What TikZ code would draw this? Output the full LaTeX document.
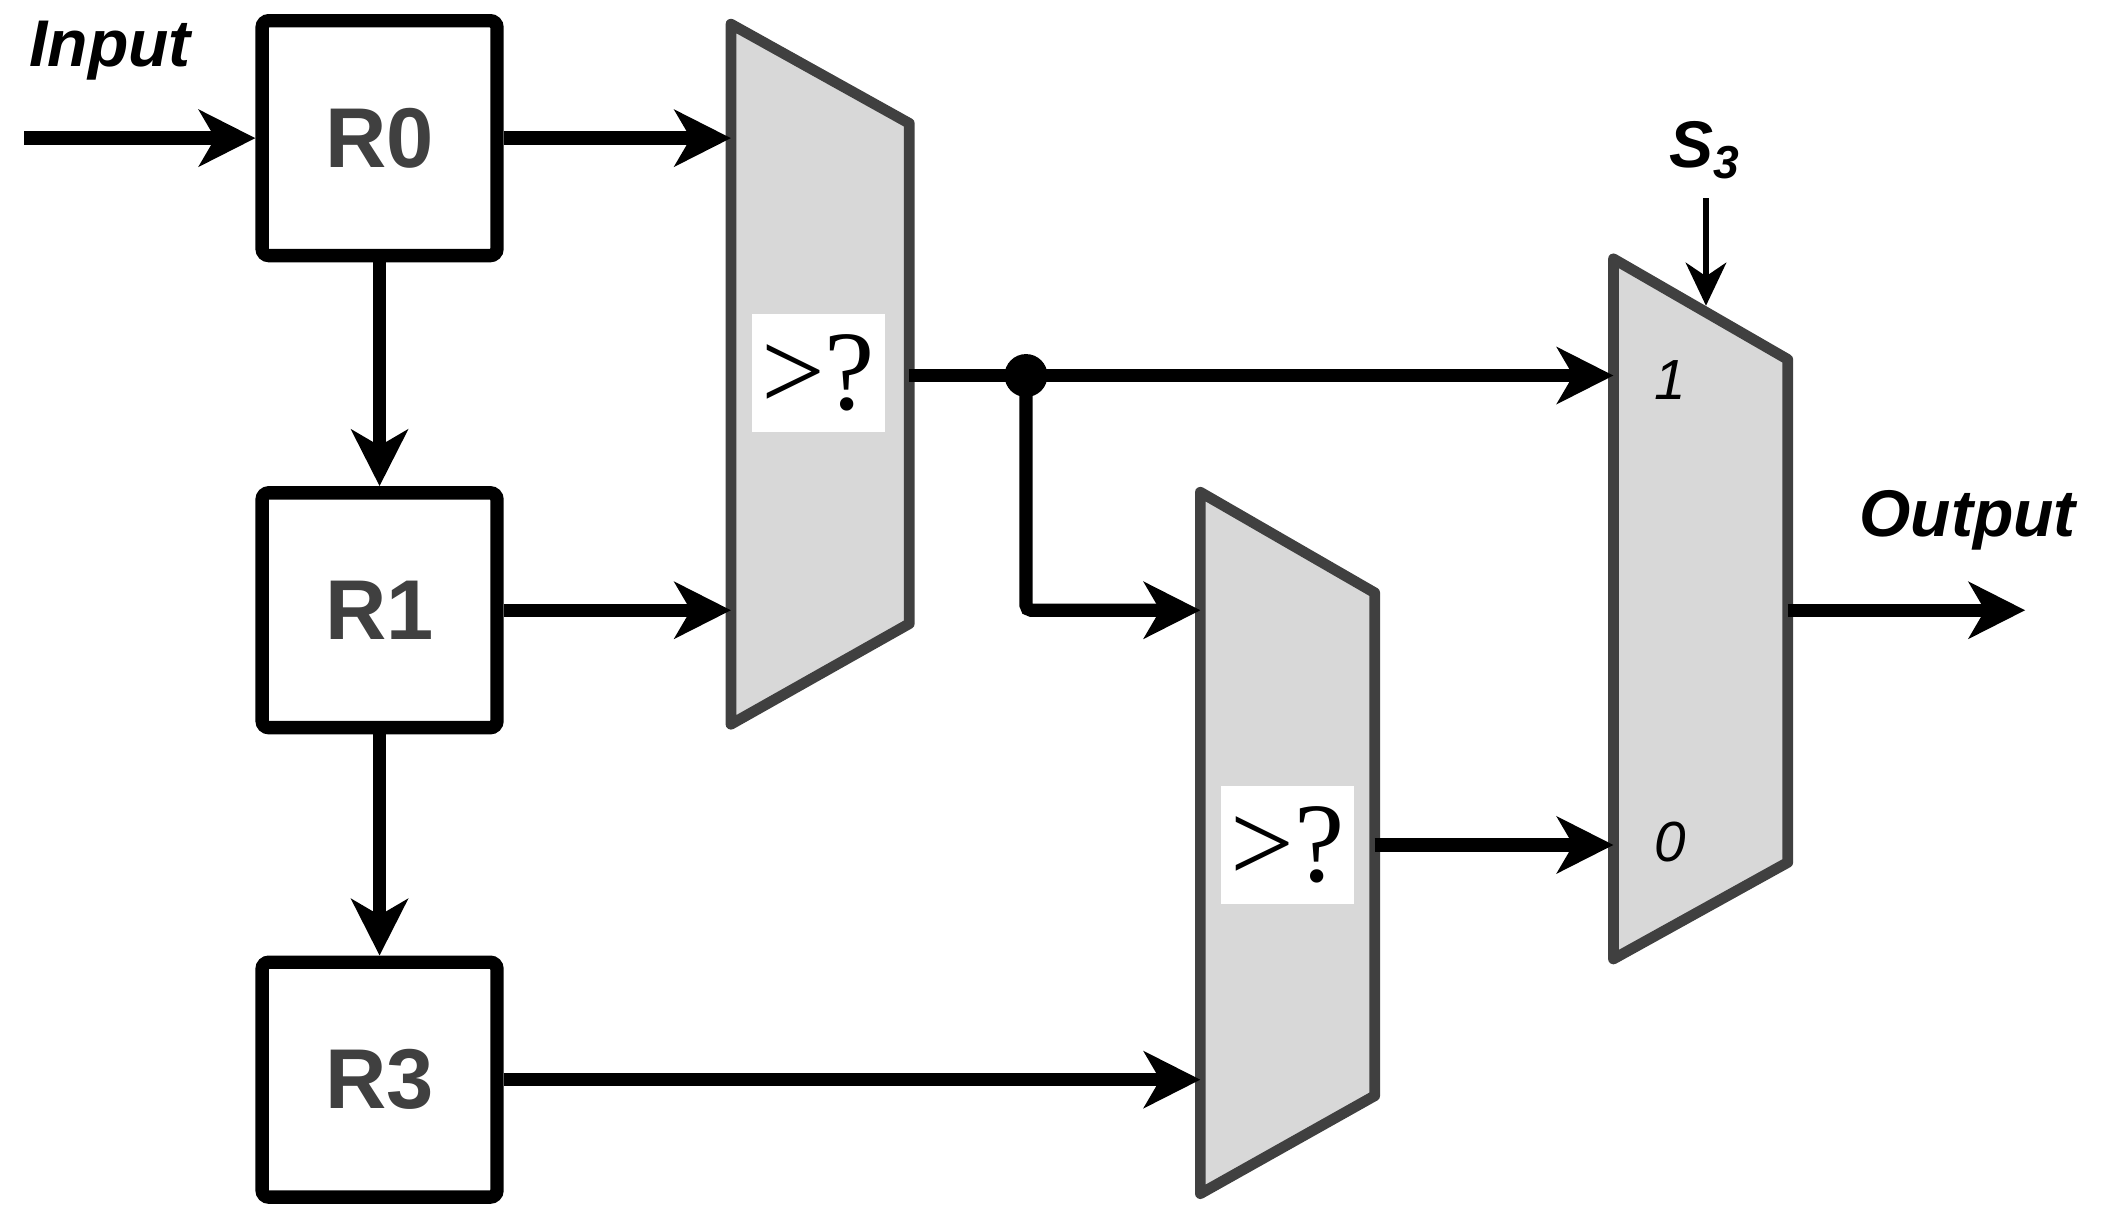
\documentclass[tikz,border=0pt]{standalone}
\usepackage{fontspec}
\setmainfont{Liberation Sans}
\newfontfamily\serifF{Liberation Serif}
\usetikzlibrary{arrows.meta}
\definecolor{dg}{RGB}{64,64,64}
\definecolor{lg}{RGB}{216,216,216}
\begin{document}
\begin{tikzpicture}[x=0.01cm,y=-0.01cm,
  wire/.style={line width=0.1cm,black,-{Stealth[length=0.42cm,width=0.42cm,inset=0.12cm]}},
  reg/.style={draw=black,line width=0.1cm,rounded corners=0.05cm,minimum width=1.75cm,minimum height=1.75cm,font=\fontsize{18}{20}\selectfont\bfseries,text=dg},
  trap/.style={draw=dg,fill=lg,line width=0.08cm,line join=round},
  cmp/.style={fill=white,inner sep=2pt,minimum width=0.7cm,minimum height=0.88cm,font=\serifF\fontsize{24}{26}\selectfont},
  lbl/.style={font=\fontsize{14}{16}\selectfont\bfseries\itshape}]
\useasboundingbox (0,0) rectangle (1568,912);
\node[reg] (R0) at (283,103) {R0};
\node[reg] (R1) at (283,455) {R1};
\node[reg] (R3) at (283,805) {R3};
\node[lbl] (in) at (82,38) {Input};
\coordinate (inS) at (18,103);
\draw[wire] (inS) -- (R0.west);
\draw[wire] (R0.south) -- (R1.north);
\draw[wire] (R1.south) -- (R3.north);
% comparators
\draw[trap] (545,18) -- (678,92) -- (678,465) -- (545,540) -- cycle;
\draw[trap] (895,367) -- (1025,442) -- (1025,817) -- (895,890) -- cycle;
\draw[trap] (1203,193) -- (1333,268) -- (1333,643) -- (1203,715) -- cycle;
\node[cmp] (c1) at (610,278) {>?};
\node[cmp] (c2) at (960,630) {>?};
\coordinate (c1i0) at (545,103); \coordinate (c1i1) at (545,455);
\coordinate (c1o) at (678,280);
\coordinate (c2i0) at (895,455); \coordinate (c2i1) at (895,805);
\coordinate (c2o) at (1025,630);
\coordinate (m1) at (1203,280); \coordinate (m0) at (1203,630);
\coordinate (ms) at (1272,228); \coordinate (mo) at (1333,455);
\coordinate (dot) at (765,280);
\draw[wire] (R0.east) -- (c1i0);
\draw[wire] (R1.east) -- (c1i1);
\draw[wire] (R3.east) -- (c2i1);
\draw[wire] (c1o) -- (m1);
\draw[wire,rounded corners=0.04cm] (dot) |- (c2i0);
\fill (dot) circle (0.16cm);
\draw[wire] (c2o) -- (m0);
\node[font=\itshape\fontsize{12}{14}\selectfont] at (1245,283) {1};
\node[font=\itshape\fontsize{12}{14}\selectfont] at (1245,628) {0};
\node[lbl] (s3) at (1272,112) {S\textsubscript{3}};
\draw[line width=0.05cm,-{Stealth[length=0.32cm,width=0.3cm,inset=0.1cm]}] (1272,148) -- (ms);
\node[lbl] (out) at (1467,388) {Output};
\coordinate (outE) at (1510,455);
\draw[wire] (mo) -- (outE);
\end{tikzpicture}
\end{document}
